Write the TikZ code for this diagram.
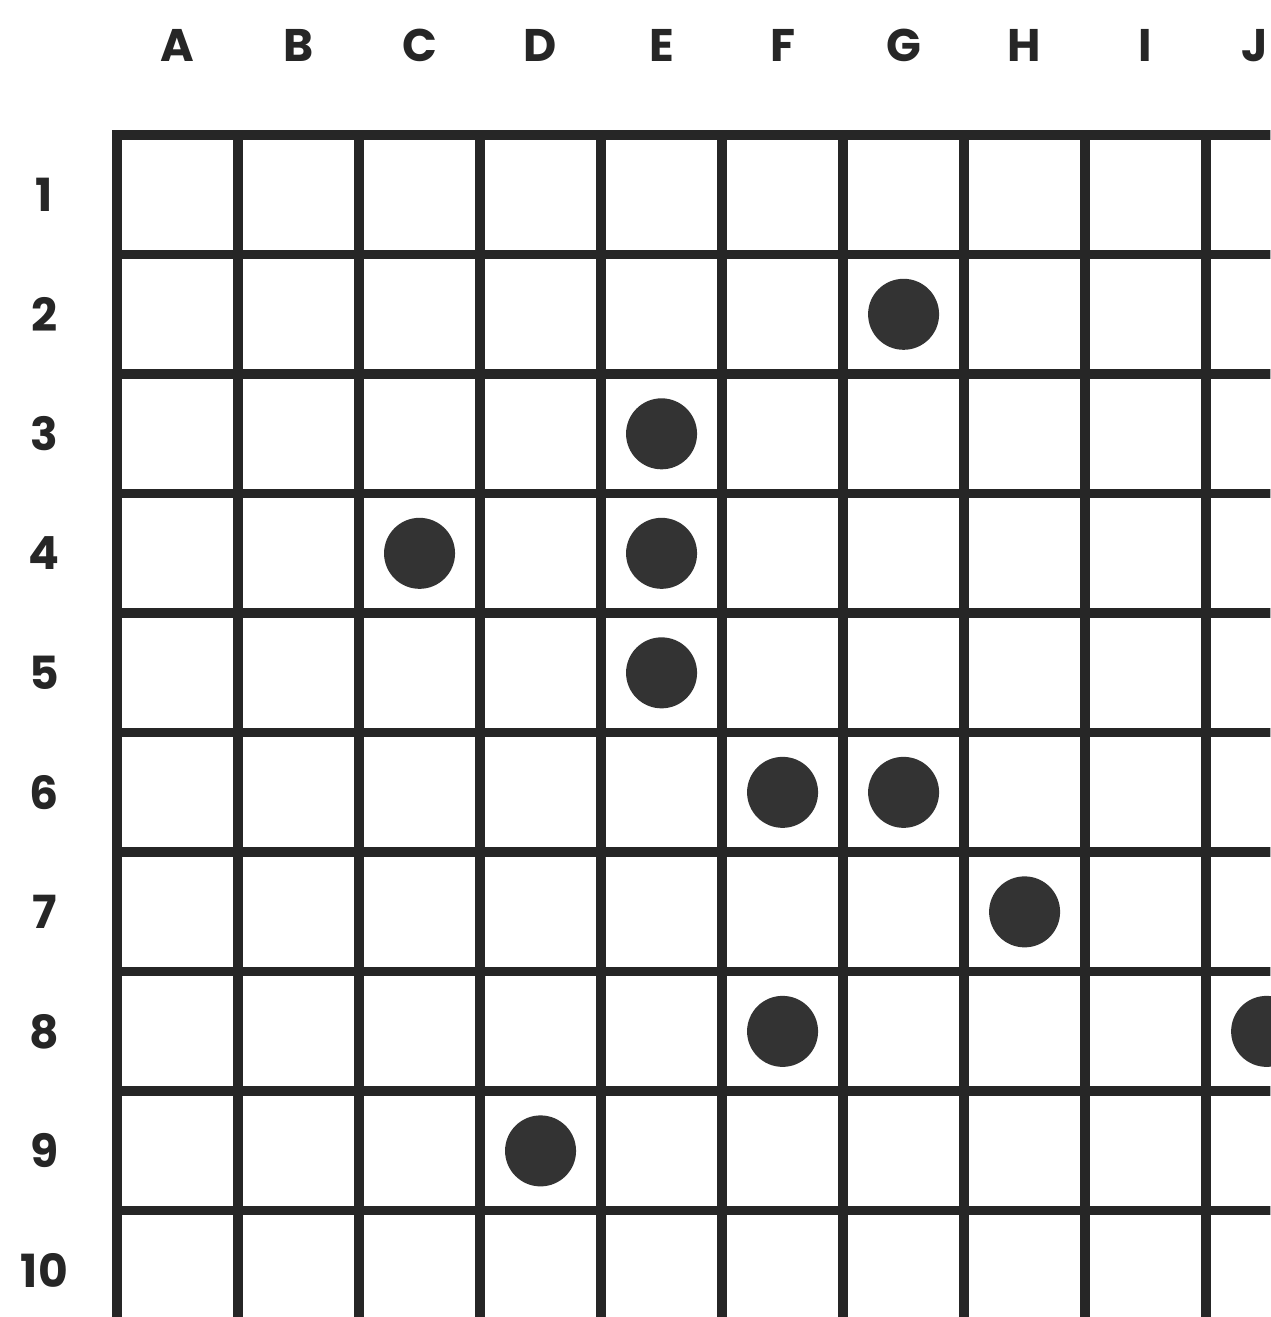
\documentclass[tikz,border=0pt]{standalone}
\usepackage{fontspec}
\newfontfamily\gridfont{Poppins}
\usetikzlibrary{positioning}
\tikzset{
  gridline/.style={line width=5.5pt, black!85, line cap=rect},
  collabel/.style={font=\gridfont\bfseries\fontsize{26}{30}\selectfont, text=black!85},
  rowlabel/.style={font=\gridfont\bfseries\fontsize{26}{30}\selectfont, text=black!85},
  stone/.style={circle, fill=black!80, minimum size=1.42cm, inner sep=0pt}
}

\begin{document}
\begin{tikzpicture}[x=2.42cm, y=-2.39cm]
    \fill[white] (-0.967,-1.13) rectangle (9.53,9.89);
    \useasboundingbox (-0.967,-1.13) rectangle (9.53,9.89);

    % Grid
    \begin{scope}
        \clip (-0.967,-1.13) rectangle (9.53,9.89);
        \foreach \c in {0,...,10}
            \draw[gridline] (\c,0) -- (\c,10.3);
        \foreach \r in {0,...,10}
            \draw[gridline] (0,\r) -- (10.3,\r);
    \end{scope}

    % Labels
    \foreach \l [count=\i] in {A,B,C,D,E,F,G,H,I}
        \node[collabel] (col\l) at (\i-0.5,-0.75) {\l};
    \node[collabel, anchor=east, inner xsep=1pt] (colJ) at (9.53,-0.75) {J};
    \foreach \r in {1,...,10}
        \node[rowlabel] (row\r) at (-0.6,\r-0.5) {\r};

    % Stones
    \foreach \n/\c/\r in {G2/7/2, E3/5/3, C4/3/4, E4/5/4, E5/5/5, F6/6/6,
                          G6/7/6, H7/8/7, F8/6/8, J8/10/8, D9/4/9}
        \node[stone] (\n) at (\c-0.5,\r-0.5) {};
\end{tikzpicture}
\end{document}
